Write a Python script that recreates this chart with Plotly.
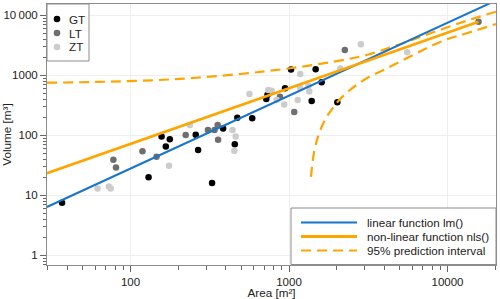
import plotly.graph_objects as go

# ---- data ----
gt_area = [37, 130, 157, 167, 177, 258, 267, 327, 384, 455, 472, 586, 731, 719, 944, 1030, 1473, 1607, 1390, 2018]
gt_volume = [7.5, 20, 95, 65, 86, 102, 57, 16, 130, 71, 196, 192, 470, 403, 607, 1250, 1260, 764, 373, 355]

lt_area = [78, 81, 119, 146, 223, 308, 339, 355, 357, 877, 1079, 2250, 15700]
lt_volume = [39, 29, 54, 44, 101, 123, 123, 148, 84, 440, 245, 2640, 7800]

zt_area = [62, 73, 75, 175, 237, 440, 461, 452, 563, 740, 778, 836, 933, 1178, 1173, 1325, 1343, 1135, 2109, 2840, 5570]
zt_volume = [13, 14, 13, 31, 148, 122, 95, 55, 488, 569, 554, 388, 326, 1050, 626, 663, 537, 388, 1300, 3290, 2420]

lm_area = [29.7, 20230]
lm_volume = [6.38, 17660]

nls_area = [29.7, 15700]
nls_volume = [23.3, 7800]

pi_up_area = [29.7, 70.8, 186, 491, 1015, 1901, 3090, 5012, 8128, 13210, 20230]
pi_up_volume = [753, 782, 858, 1051, 1309, 1686, 2179, 3300, 5200, 8100, 11480]

pi_lo_area = [1377, 1429, 1525, 1687, 2010, 2427, 3090, 3936, 5012, 6392, 8128, 10370, 13210, 20230]
pi_lo_volume = [20.3, 47, 95, 180, 352, 569, 891, 1225, 1686, 2328, 3199, 4140, 5012, 7160]

x_tickvals = [100, 1000, 10000]
x_ticktext = ["100", "1000", "10000"]
y_tickvals = [1, 10, 100, 1000, 10000]
y_ticktext = ["1", "10", "100", "1000", "10\u2009000"]

group_names = ["GT", "LT", "ZT"]
group_colors = ["#000000", "#6e6e6e", "#cccccc"]
fit_names = ["linear function lm()", "non-linear function nls()", "95% prediction interval"]

BLUE = "#1874CD"
ORANGE = "#FFA500"
DASH = "10px,6px"
FONT = "Liberation Sans, Arial, sans-serif"
TXT = "#222222"

fig = go.Figure()

groups = [(gt_area, gt_volume), (lt_area, lt_volume), (zt_area, zt_volume)]
for name, (xs, ys), col in zip(group_names, groups, group_colors):
    fig.add_trace(go.Scatter(x=xs, y=ys, mode="markers", name=name, showlegend=False,
                             marker=dict(color=col, size=6.5, line=dict(width=0))))

fig.add_trace(go.Scatter(x=pi_up_area, y=pi_up_volume, mode="lines", line_shape="spline",
                         line=dict(color=ORANGE, width=2.2, dash=DASH),
                         name=fit_names[2], showlegend=False))
fig.add_trace(go.Scatter(x=pi_lo_area, y=pi_lo_volume, mode="lines", line_shape="spline",
                         line=dict(color=ORANGE, width=2.2, dash=DASH),
                         name=fit_names[2], showlegend=False))
fig.add_trace(go.Scatter(x=lm_area, y=lm_volume, mode="lines",
                         line=dict(color=BLUE, width=2), name=fit_names[0], showlegend=False))
fig.add_trace(go.Scatter(x=nls_area, y=nls_volume, mode="lines",
                         line=dict(color=ORANGE, width=2.8), name=fit_names[1], showlegend=False))

# ---- plot-area geometry (px) used for the hand-made legends ----
L, R, T, B = 47, 496, 4, 265
PW, PH = R - L, B - T
def px(x):
    return (x - L) / PW
def py(y):
    return (B - y) / PH

shapes = []
annotations = []
FRAME = "#8c8c8c"
LEG_FONT = 11.7

# legend 1 (top-left)
shapes.append(dict(type="rect", xref="paper", yref="paper", x0=px(47), x1=px(89), y0=py(61), y1=py(4),
                   line=dict(color=FRAME, width=1), fillcolor="white", layer="above"))
for i, (name, col) in enumerate(zip(group_names, group_colors)):
    yc = 19 + 14 * i
    shapes.append(dict(type="circle", xref="paper", yref="paper", xsizemode="pixel", ysizemode="pixel",
                       xanchor=px(57), yanchor=py(yc), x0=-3.3, x1=3.3, y0=-3.3, y1=3.3,
                       fillcolor=col, line=dict(width=0), layer="above"))
    annotations.append(dict(xref="paper", yref="paper", x=px(67), y=py(yc), text=name, showarrow=False,
                            xanchor="left", yanchor="middle", font=dict(size=LEG_FONT, color=TXT)))

# legend 2 (bottom-right)
shapes.append(dict(type="rect", xref="paper", yref="paper", x0=px(291), x1=px(496), y0=py(264.5), y1=py(208),
                   line=dict(color=FRAME, width=1), fillcolor="white", layer="above"))
fit_styles = [dict(color=BLUE, width=2), dict(color=ORANGE, width=2.8), dict(color=ORANGE, width=2.2, dash=DASH)]
for i, (name, st) in enumerate(zip(fit_names, fit_styles)):
    yc = 222.5 + 14 * i
    shapes.append(dict(type="line", xref="paper", yref="paper", x0=px(301), x1=px(357), y0=py(yc), y1=py(yc),
                       line=st, layer="above"))
    annotations.append(dict(xref="paper", yref="paper", x=px(365), y=py(yc), text=name, showarrow=False,
                            xanchor="left", yanchor="middle", font=dict(size=LEG_FONT, color=TXT)))

axis_common = dict(
    type="log", showline=True, linecolor=FRAME, linewidth=1, mirror=True, automargin=False,
    ticks="outside", ticklen=6, tickcolor="#666666", tickwidth=1,
    showgrid=True, gridcolor="#efefef", gridwidth=1, zeroline=False,
    tickfont=dict(size=11.5, color=TXT, family=FONT),
    minor=dict(ticks="outside", ticklen=3.5, tickcolor="#666666", dtick="D1", showgrid=False),
)

fig.update_layout(
    width=500, height=299,
    margin=dict(l=L, r=500 - R, t=T, b=299 - B),
    paper_bgcolor="white", plot_bgcolor="white",
    font=dict(family=FONT, size=12, color=TXT),
    xaxis=dict(range=[1.4732, 4.306], tickmode="array", tickvals=x_tickvals, ticktext=x_ticktext,
               title=dict(text="Area [m²]", font=dict(size=11.7), standoff=3), **axis_common),
    yaxis=dict(range=[-0.162, 4.188], tickmode="array", tickvals=y_tickvals, ticktext=y_ticktext,
               title=dict(text="Volume [m³]", font=dict(size=11.7), standoff=3), **axis_common),
    shapes=shapes,
    annotations=annotations,
    showlegend=False,
)

fig.write_html("out.html", config={"displayModeBar": False},
               post_script="document.body.style.margin='0';document.body.style.overflow='hidden';")
